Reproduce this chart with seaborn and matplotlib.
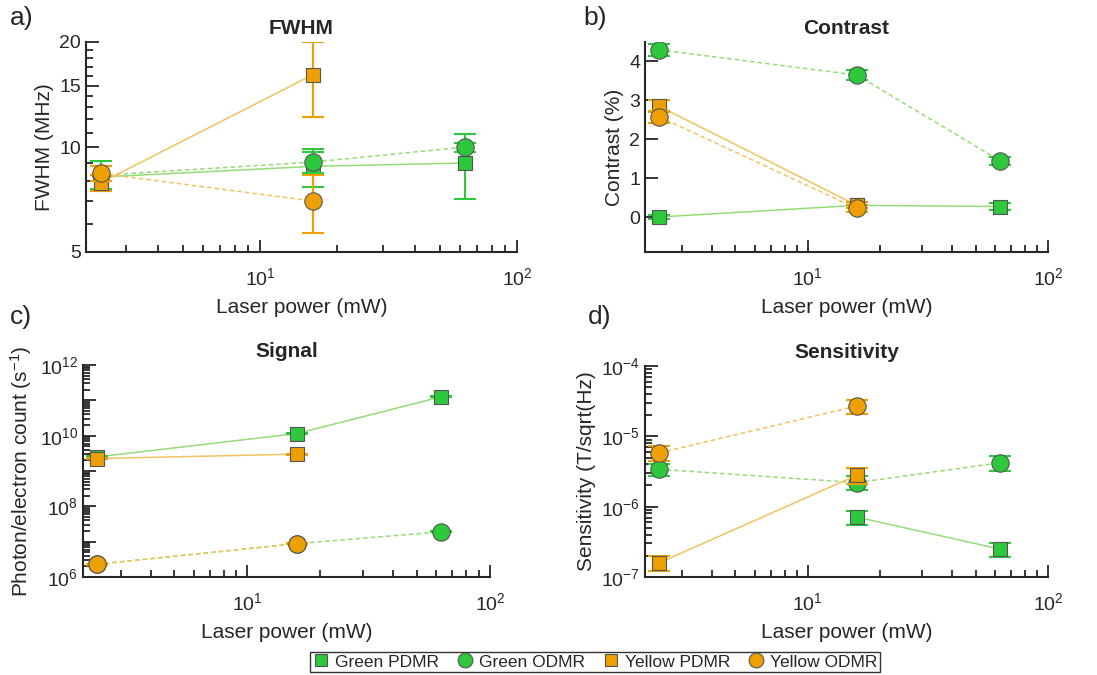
import numpy as np
import pandas as pd
import matplotlib
matplotlib.use("Agg")
import matplotlib.pyplot as plt
import matplotlib.ticker as mticker
from matplotlib.lines import Line2D
import seaborn as sns

# ---------------- data ----------------
power = [2.4, 16, 63]          # mW, green laser
power_y = [2.4, 16]            # mW, yellow laser

fwhm_gp = [8.2, 8.8, 9.0]
fwhm_gp_err = [0.6, 1.1, 1.9]
fwhm_go = [8.3, 9.05, 10.0]
fwhm_go_err = [0.8, 0.6, 0.3]
fwhm_yp = [7.9, 16.1]
fwhm_yp_err = [0.4, 3.9]
fwhm_yo = [8.4, 7.0]
fwhm_yo_err = [0.4, 1.33]

con_gp = [0.0, 0.30, 0.27]
con_gp_err = [0.05, 0.08, 0.08]
con_go = [4.3, 3.65, 1.45]
con_go_err = [0.15, 0.12, 0.10]
con_yp = [2.85, 0.30]
con_yp_err = [0.15, 0.08]
con_yo = [2.58, 0.22]
con_yo_err = [0.15, 0.08]

sig_gp = [2.5e9, 1.15e10, 1.26e11]
sig_gp_err = [0.1e9, 0.4e9, 4e9]
sig_go = [2.3e6, 8.8e6, 1.9e7]
sig_go_err = [0.08e6, 0.3e6, 0.6e6]
sig_yp = [2.25e9, 3.0e9]
sig_yp_err = [0.08e9, 0.1e9]
sig_yo = [2.3e6, 8.8e6]
sig_yo_err = [0.08e6, 0.3e6]

sen_gp = [np.nan, 7.1e-7, 2.5e-7]
sen_gp_err = [np.nan, 1.6e-7, 0.55e-7]
sen_go = [3.4e-6, 2.2e-6, 4.2e-6]
sen_go_err = [0.7e-6, 0.5e-6, 1.0e-6]
sen_yp = [1.58e-7, 2.8e-6]
sen_yp_err = [0.38e-7, 0.7e-6]
sen_yo = [5.8e-6, 2.7e-5]
sen_yo_err = [1.4e-6, 0.6e-5]

series_names = ["Green PDMR", "Green ODMR", "Yellow PDMR", "Yellow ODMR"]
panel_titles = ["FWHM", "Contrast", "Signal", "Sensitivity"]
panel_letters = ["a)", "b)", "c)", "d)"]
ylabels = ["FWHM (MHz)", "Contrast (%)", "Photon/electron count (s$^{-1}$)",
           "Sensitivity (T/sqrt(Hz)"]
xlabel = "Laser power (mW)"

# ---------------- style ----------------
sns.set_theme(style="ticks")
plt.rcParams["font.family"] = ["Liberation Sans", "DejaVu Sans"]
plt.rcParams["mathtext.default"] = "regular"
plt.rcParams["axes.edgecolor"] = "#262626"
plt.rcParams["xtick.color"] = "#262626"
plt.rcParams["ytick.color"] = "#262626"
plt.rcParams["text.color"] = "#262626"
plt.rcParams["axes.labelcolor"] = "#262626"

GREEN = "#2DC83C"
ORANGE = "#EDA000"
GREEN_LINE = "#95DC78"
ORANGE_LINE = "#F2C260"
EDGE = "#555555"
DASH = (0, (3, 2))

styles = {
    "Green PDMR": dict(c=GREEN, lc=GREEN_LINE, ls="-", m="s", ms=9.5),
    "Green ODMR": dict(c=GREEN, lc=GREEN_LINE, ls=DASH, m="o", ms=12.5),
    "Yellow PDMR": dict(c=ORANGE, lc=ORANGE_LINE, ls="-", m="s", ms=9.5),
    "Yellow ODMR": dict(c=ORANGE, lc=ORANGE_LINE, ls=DASH, m="o", ms=12.5),
}

fig = plt.figure(figsize=(10.97, 6.75), dpi=100)
W, H = 1097, 675


def add_ax(l, r, t, b):
    return fig.add_axes([l / W, 1 - b / H, (r - l) / W, (b - t) / H])


axes = [add_ax(86, 517, 42, 252), add_ax(645, 1048, 42, 252),
        add_ax(83, 490, 365, 577), add_ax(645, 1048, 366, 577)]

panel_data = [
    [(power, fwhm_gp, fwhm_gp_err), (power, fwhm_go, fwhm_go_err),
     (power_y, fwhm_yp, fwhm_yp_err), (power_y, fwhm_yo, fwhm_yo_err)],
    [(power, con_gp, con_gp_err), (power, con_go, con_go_err),
     (power_y, con_yp, con_yp_err), (power_y, con_yo, con_yo_err)],
    [(power, sig_gp, sig_gp_err), (power, sig_go, sig_go_err),
     (power_y, sig_yp, sig_yp_err), (power_y, sig_yo, sig_yo_err)],
    [(power, sen_gp, sen_gp_err), (power, sen_go, sen_go_err),
     (power_y, sen_yp, sen_yp_err), (power_y, sen_yo, sen_yo_err)],
]

for i, (ax, pdata) in enumerate(zip(axes, panel_data)):
    for k, (name, (x, y, e)) in enumerate(zip(series_names, pdata)):
        st = styles[name]
        df = pd.DataFrame({"x": x, "y": y, "e": e}).dropna()
        z = 3 + 3 * k
        sns.lineplot(data=df, x="x", y="y", ax=ax, color=st["lc"],
                     linestyle=st["ls"], lw=1.1, zorder=z)
        ax.errorbar(df["x"], df["y"], yerr=df["e"], fmt="none",
                    ecolor=st["c"], elinewidth=1.5, capsize=8,
                    capthick=1.5, zorder=z + 1)
        sns.scatterplot(data=df, x="x", y="y", ax=ax, marker=st["m"],
                        s=st["ms"] ** 2, color=st["c"], edgecolor=EDGE,
                        linewidth=0.8, zorder=z + 2, legend=False)

    ax.set_xscale("log")
    ax.set_xlim(2.1, 100)
    ax.xaxis.set_major_locator(mticker.FixedLocator([10, 100]))
    ax.xaxis.set_minor_locator(mticker.LogLocator(base=10, subs=np.arange(2, 10)))
    ax.xaxis.set_minor_formatter(mticker.NullFormatter())
    ax.set_xlabel(xlabel, fontsize=15, labelpad=6)
    ax.set_ylabel(ylabels[i], fontsize=15, labelpad=4)
    ax.set_title(panel_titles[i], fontsize=15, fontweight="bold", pad=6)
    sns.despine(ax=ax)
    for sp in ("left", "bottom"):
        ax.spines[sp].set_linewidth(1.5)
    ax.tick_params(which="both", direction="in", labelsize=14, width=1.3)
    ax.tick_params(which="major", length=9)
    ax.tick_params(which="minor", length=5)
    ax.tick_params(axis="x", which="major", pad=11)

# panel a
ax = axes[0]
ax.set_yscale("log")
ax.set_ylim(5, 20)
ax.yaxis.set_major_locator(mticker.FixedLocator([5, 10, 15, 20]))
ax.yaxis.set_major_formatter(mticker.FixedFormatter(["5", "10", "15", "20"]))
ax.yaxis.set_minor_locator(mticker.FixedLocator([6, 7, 8, 9, 11, 12, 13, 14, 16, 17, 18, 19]))
ax.yaxis.set_minor_formatter(mticker.NullFormatter())

# panel b
ax = axes[1]
ax.set_ylim(-0.9, 4.5)
ax.set_yticks([0, 1, 2, 3, 4])
ax.yaxis.set_minor_locator(mticker.NullLocator())

# panel c
ax = axes[2]
ax.set_yscale("log")
ax.set_ylim(1e6, 1e12)
ax.yaxis.set_major_locator(mticker.FixedLocator([10.0 ** p for p in range(6, 13)]))
ax.yaxis.set_major_formatter(mticker.FuncFormatter(
    lambda v, pos: "$10^{%d}$" % round(np.log10(v)) if round(np.log10(v)) % 2 == 0 else ""))
ax.yaxis.set_minor_locator(mticker.LogLocator(base=10, subs=np.arange(2, 10), numticks=20))
ax.yaxis.set_minor_formatter(mticker.NullFormatter())

# panel d
ax = axes[3]
ax.set_yscale("log")
ax.set_ylim(1e-7, 1e-4)
ax.yaxis.set_major_locator(mticker.FixedLocator([1e-7, 1e-6, 1e-5, 1e-4]))
ax.yaxis.set_minor_locator(mticker.LogLocator(base=10, subs=np.arange(2, 10), numticks=20))
ax.yaxis.set_minor_formatter(mticker.NullFormatter())

# panel letters
for txt, (px, py) in zip(panel_letters, [(10, 18), (583, 18), (10, 317), (588, 317)]):
    fig.text(px / W, 1 - py / H, txt, fontsize=19, va="center", ha="left")

# legend
handles = [Line2D([], [], linestyle="none", marker=styles[n]["m"],
                  markersize=styles[n]["ms"] * 0.85, markerfacecolor=styles[n]["c"],
                  markeredgecolor=EDGE, markeredgewidth=0.8)
           for n in series_names]
fig.legend(handles, series_names, loc="center", bbox_to_anchor=(595 / W, 1 - 662 / H),
           ncol=4, frameon=True, fancybox=False, edgecolor="#333333",
           fontsize=12.5, borderpad=0.15, handletextpad=0.3, columnspacing=1.0,
           handlelength=1.0, framealpha=1)

fig.savefig("out.png", dpi=100)
